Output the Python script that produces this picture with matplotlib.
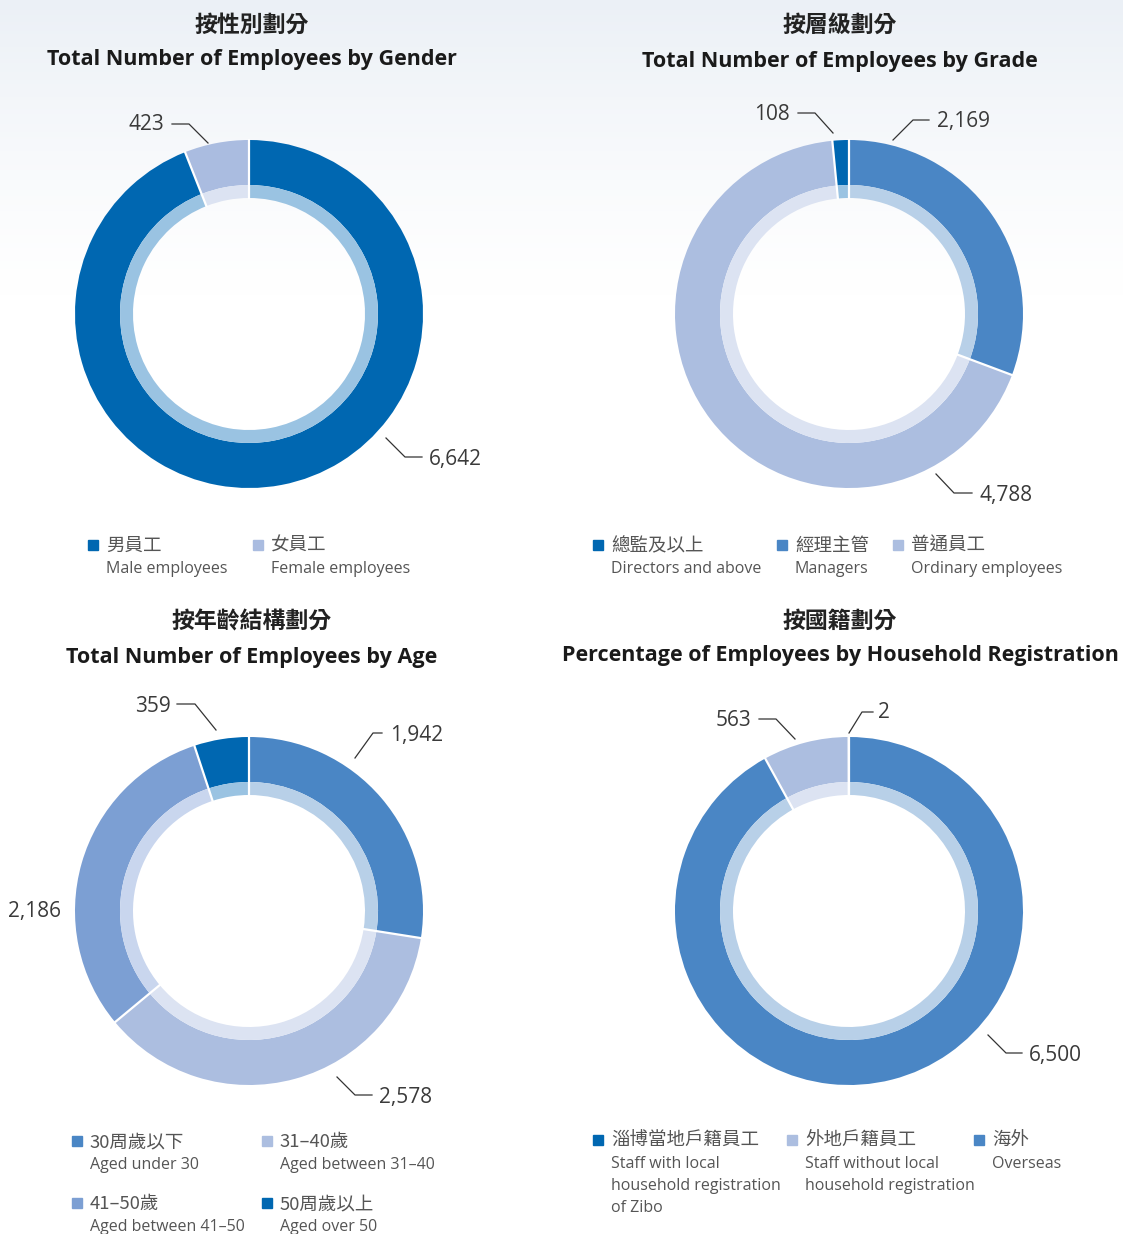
import matplotlib.pyplot as plt
import numpy as np

# canvas size in px (dpi 100)
W, H = 1123, 1234

cjk = ['Noto Sans CJK TC', 'DejaVu Sans']
latin = ['Open Sans', 'DejaVu Sans']
plt.rcParams['font.family'] = cjk

# ---- data ----
gender_values = [6642, 423]
gender_outer = ['#0067B1', '#AABCE0']
gender_inner = ['#9AC3E2', '#DCE3F2']
gender_cn = ['男員工', '女員工']
gender_en = ['Male employees', 'Female employees']

grade_values = [2169, 4788, 108]
grade_outer = ['#4A86C5', '#ACBEE0', '#0067B1']
grade_inner = ['#B8D0E8', '#DCE3F2', '#9AC3E2']
grade_cn = ['總監及以上', '經理主管', '普通員工']
grade_en = ['Directors and above', 'Managers', 'Ordinary employees']
grade_legend_colors = ['#0067B1', '#4A86C5', '#ACBEE0']

age_values = [1942, 2578, 2186, 359]
age_outer = ['#4A86C5', '#ACBEE0', '#7C9FD3', '#0067B1']
age_inner = ['#B8D0E8', '#DCE3F2', '#C9D6EE', '#9AC3E2']
age_cn = ['30周歲以下', '31–40歲', '41–50歲', '50周歲以上']
age_en = ['Aged under 30', 'Aged between 31–40', 'Aged between 41–50', 'Aged over 50']

house_values = [6500, 563, 2]
house_outer = ['#4A86C5', '#ACBEE0', '#9AC3E2']
house_inner = ['#B8D0E8', '#DCE3F2', '#DCE3F2']
house_cn = ['淄博當地戶籍員工', '外地戶籍員工', '海外']
house_en = ['Staff with local\nhousehold registration\nof Zibo',
            'Staff without local\nhousehold registration', 'Overseas']
house_legend_colors = ['#0067B1', '#ACBEE0', '#4A86C5']

fig = plt.figure(figsize=(W / 100, H / 100), dpi=100)
ax = fig.add_axes([0, 0, 1, 1])


def Y(y):
    return H - y


# faint sky at the top
grad = np.linspace(1, 0, 300) ** 1.3
rgba = np.zeros((300, 2, 4))
rgba[..., 0] = 0.925
rgba[..., 1] = 0.945
rgba[..., 2] = 0.965
rgba[..., 3] = grad[:, None]
ax.imshow(rgba, extent=[0, W, Y(300), Y(0)], aspect='auto', zorder=0)

R_OUT, R_MID, R_IN = 174, 129, 116


def donut(cx, cy, values, outer, inner):
    c = (cx, Y(cy))
    kw = dict(startangle=90, counterclock=False, center=c, frame=True)
    ax.pie(values, colors=outer, radius=R_OUT,
           wedgeprops=dict(width=R_OUT - R_MID, linewidth=0), **kw)
    ax.pie(values, colors=inner, radius=R_MID,
           wedgeprops=dict(width=R_MID - R_IN, linewidth=0), **kw)
    # white radial separators between slices
    fr = np.cumsum(values) / np.sum(values)
    for f in np.concatenate([[0], fr[:-1]]):
        a = np.deg2rad(90 - 360 * f)
        ax.plot([c[0] + (R_IN - 1) * np.cos(a), c[0] + (R_OUT + 1) * np.cos(a)],
                [c[1] + (R_IN - 1) * np.sin(a), c[1] + (R_OUT + 1) * np.sin(a)],
                color='white', lw=1.6, zorder=4, solid_capstyle='butt')


def callout(text, pts, tx, ty, ha):
    xs = [p[0] for p in pts]
    ys = [Y(p[1]) for p in pts]
    ax.plot(xs, ys, color='#333333', lw=0.9, zorder=5)
    ax.text(tx, Y(ty + 2), text, ha=ha, va='center', fontsize=15, color='#3a3a3a',
            family=latin, zorder=5)


def titles(cx, cn, cn_y, en, en_y):
    ax.text(cx, Y(cn_y + 1), cn, ha='center', va='center', fontsize=16.5,
            color='#222222', fontweight='bold', family=cjk)
    ax.text(cx, Y(en_y + 2), en, ha='center', va='center', fontsize=15.5,
            color='#1a1a1a', fontweight='bold', family=latin)


def legend_item(x, y, color, cn, en):
    ax.add_patch(plt.Rectangle((x - 18, Y(y + 5)), 10, 10, color=color, zorder=5))
    ax.text(x, Y(y + 1), cn, ha='left', va='center', fontsize=13.3, color='#555555', family=cjk)
    ax.text(x, Y(y + 16), en, ha='left', va='top', fontsize=11.5, color='#555555',
            family=latin, linespacing=1.52)


# ---- gender ----
titles(252, '按性別劃分', 24, 'Total Number of Employees by Gender', 58)
donut(249, 314, gender_values, gender_outer, gender_inner)
callout(f'{gender_values[1]:,}', [(172, 124), (189, 124), (208, 143)], 164, 123, 'right')
callout(f'{gender_values[0]:,}', [(386, 438), (405, 457), (422, 457)], 429, 457, 'left')
for i, x in enumerate([106, 271]):
    legend_item(x, 545, gender_outer[i], gender_cn[i], gender_en[i])

# ---- grade ----
titles(840, '按層級劃分', 24, 'Total Number of Employees by Grade', 59)
donut(849, 314, grade_values, grade_outer, grade_inner)
callout(f'{grade_values[2]:,}', [(798, 113), (815, 113), (833, 133)], 790, 113, 'right')
callout(f'{grade_values[0]:,}', [(893, 140), (913, 120), (929, 120)], 937, 120, 'left')
callout(f'{grade_values[1]:,}', [(936, 474), (954, 493), (972, 493)], 979, 493, 'left')
for i, x in enumerate([611, 795, 911]):
    legend_item(x, 545, grade_legend_colors[i], grade_cn[i], grade_en[i])

# ---- age ----
titles(252, '按年齡結構劃分', 621, 'Total Number of Employees by Age', 656)
donut(249, 911, age_values, age_outer, age_inner)
callout(f'{age_values[3]:,}', [(177, 704), (195, 704), (216, 730)], 171, 704, 'right')
callout(f'{age_values[0]:,}', [(355, 758), (373, 733), (382, 733)], 390, 733, 'left')
callout(f'{age_values[1]:,}', [(337, 1077), (355, 1095), (372, 1095)], 379, 1095, 'left')
ax.text(61, Y(912), f'{age_values[2]:,}', ha='right', va='center', fontsize=15,
        color='#3a3a3a', family=latin)
age_pos = [(90, 1141), (280, 1141), (90, 1203), (280, 1203)]
for i, (x, y) in enumerate(age_pos):
    legend_item(x, y, age_outer[i], age_cn[i], age_en[i])

# ---- household ----
titles(840, '按國籍劃分', 620, 'Percentage of Employees by Household Registration', 654)
donut(849, 911, house_values, house_outer, house_inner)
callout(f'{house_values[1]:,}', [(759, 719), (776, 719), (795, 739)], 751, 719, 'right')
callout(f'{house_values[2]:,}', [(849, 733), (862, 712), (873, 712)], 878, 711, 'left')
callout(f'{house_values[0]:,}', [(988, 1035), (1006, 1053), (1022, 1053)], 1029, 1053, 'left')
for i, x in enumerate([611, 805, 992]):
    legend_item(x, 1140, house_legend_colors[i], house_cn[i], house_en[i])

ax.set_xlim(0, W)
ax.set_ylim(0, H)
ax.set_aspect('auto')
ax.axis('off')

fig.savefig('out.png', dpi=100, facecolor='white')
